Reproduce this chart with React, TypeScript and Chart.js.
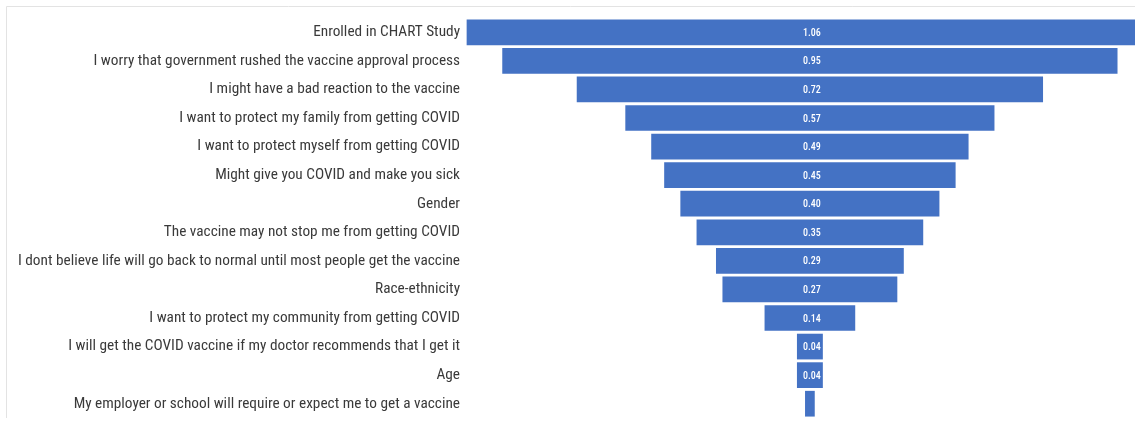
import React, { useEffect, useRef } from "react";
import { Chart, registerables } from "chart.js";

Chart.register(...registerables);

const categories: string[] = [
  "Enrolled in CHART Study",
  "I worry that government rushed the vaccine approval process",
  "I might have a bad reaction to the vaccine",
  "I want to protect my family from getting COVID",
  "I want to protect myself from getting COVID",
  "Might give you COVID and make you sick",
  "Gender",
  "The vaccine may not stop me from getting COVID",
  "I dont believe life will go back to normal until most people get the vaccine",
  "Race-ethnicity",
  "I want to protect my community from getting COVID",
  "I will get the COVID vaccine if my doctor recommends that I get it",
  "Age",
  "My employer or school will require or expect me to get a vaccine",
];

const values: number[] = [1.06, 0.95, 0.72, 0.57, 0.49, 0.45, 0.4, 0.35, 0.29, 0.27, 0.14, 0.04, 0.04, 0.015];

const FONT = '"Roboto Condensed", "DejaVu Sans Condensed", sans-serif';

const labelPlugin = {
  id: "funnelLabels",
  afterDatasetsDraw(chart: any) {
    const ctx = chart.ctx;
    const meta = chart.getDatasetMeta(0);
    ctx.save();
    ctx.fillStyle = "#ffffff";
    ctx.font = `500 10px ${FONT}`;
    ctx.textAlign = "center";
    ctx.textBaseline = "middle";
    meta.data.forEach((el: any, i: number) => {
      const w = Math.abs(el.x - el.base);
      if (w < 15) return;
      const cx = (el.x + el.base) / 2;
      ctx.fillText(values[i].toFixed(2), cx + 2, el.y + 1);
    });
    ctx.restore();
  },
};

const framePlugin = {
  id: "frame",
  beforeDraw(chart: any) {
    const ctx = chart.ctx;
    ctx.save();
    ctx.strokeStyle = "#e3e3e3";
    ctx.lineWidth = 1;
    ctx.beginPath();
    ctx.moveTo(6.5, 418);
    ctx.lineTo(6.5, 6.5);
    ctx.lineTo(chart.width, 6.5);
    ctx.stroke();
    ctx.restore();
  },
};

export default function App() {
  const ref = useRef<HTMLCanvasElement>(null);
  useEffect(() => {
    if (!ref.current) return;
    const chart = new Chart(ref.current, {
      type: "bar",
      data: {
        labels: categories,
        datasets: [
          {
            data: values.map((v) => [-v / 2, v / 2]) as any,
            backgroundColor: "#4472C4",
            borderWidth: 0,
            barPercentage: 0.9,
            categoryPercentage: 1,
          },
        ],
      },
      options: {
        indexAxis: "y",
        animation: false,
        responsive: true,
        maintainAspectRatio: false,
        layout: { padding: { top: 18, bottom: 4, left: 0, right: 0 } },
        plugins: { legend: { display: false }, tooltip: { enabled: false } },
        scales: {
          x: { display: false, min: -0.531, max: 0.502 },
          y: {
            grid: { display: false, drawTicks: false },
            border: { display: false },
            ticks: {
              color: "#3a3a3a",
              padding: 6,
              font: { family: FONT, size: 15.3 },
              autoSkip: false,
            },
            afterFit(scale: any) {
              scale.width = 466;
              scale.paddingTop = 0;
              scale.paddingBottom = 0;
            },
          },
        },
      },
      plugins: [labelPlugin, framePlugin],
    });
    return () => chart.destroy();
  }, []);
  return (
    <div style={{ position: "absolute", left: 0, top: 0, width: 1135, height: 422, background: "#fff" }}>
      <canvas ref={ref} />
    </div>
  );
}
